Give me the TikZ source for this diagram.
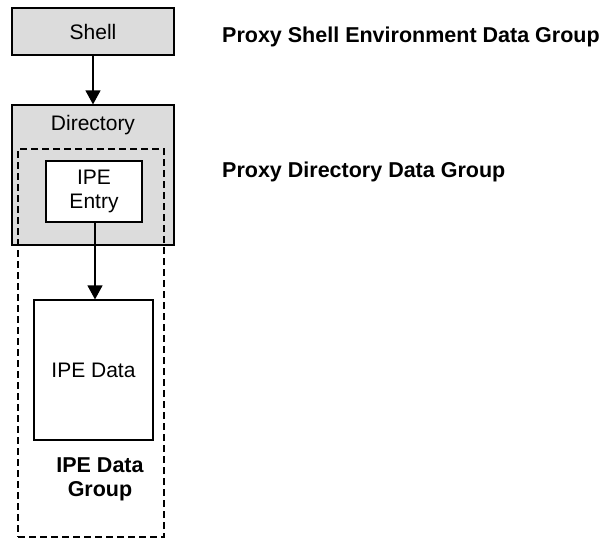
\documentclass[tikz,border=0pt]{standalone}
\usepackage{fontspec}
\setmainfont{Liberation Sans}
\usepackage{tikz}
\usetikzlibrary{arrows.meta}
\definecolor{boxgray}{RGB}{220,220,220}

\begin{document}
\begin{tikzpicture}[x=1pt,y=-1pt]

\tikzstyle{every node}+=[inner sep=0pt, font=\fontsize{21}{24}\selectfont]
\tikzstyle{greybox}=[draw=black, line width=1.2pt, fill=boxgray]
\tikzstyle{whitebox}=[draw=black, line width=1.2pt, fill=white, align=center]
\tikzstyle{grouplabel}=[font=\fontsize{21.5}{24}\selectfont\bfseries, align=center]
\tikzstyle{link}=[line width=1.2pt, -{Triangle[length=14pt,width=15pt]}]
\useasboundingbox (0,0) rectangle (603,539);
\node [greybox, minimum width=162pt, minimum height=47pt] (shell) at (93,31.5) {Shell};
\node [greybox, minimum width=162pt, minimum height=140pt] (dir) at (93,175) {};
\node (dirtext) at (93,125) {Directory};
\node [draw=black, line width=1.2pt, dashed, dash pattern=on 7pt off 4pt, minimum width=146pt, minimum height=388pt] (group) at (91,343) {};
\node [whitebox, minimum width=96pt, minimum height=61pt] (entry) at (94,191.5) {IPE\\Entry};
\node [whitebox, minimum width=119pt, minimum height=140pt] (data) at (93.5,370) {IPE Data};
\node [grouplabel] (datagroup) at (100,479) {IPE Data\\Group};
\node [grouplabel, anchor=west] (shellgroup) at (222,37) {Proxy Shell Environment Data Group};
\node [grouplabel, anchor=west] (dirgroup) at (222,172) {Proxy Directory Data Group};
\draw [link] (shell) -- (dir);
\draw [link] (entry.south -| 95,0) -- (data.north -| 95,0);
\end{tikzpicture}
\end{document}
